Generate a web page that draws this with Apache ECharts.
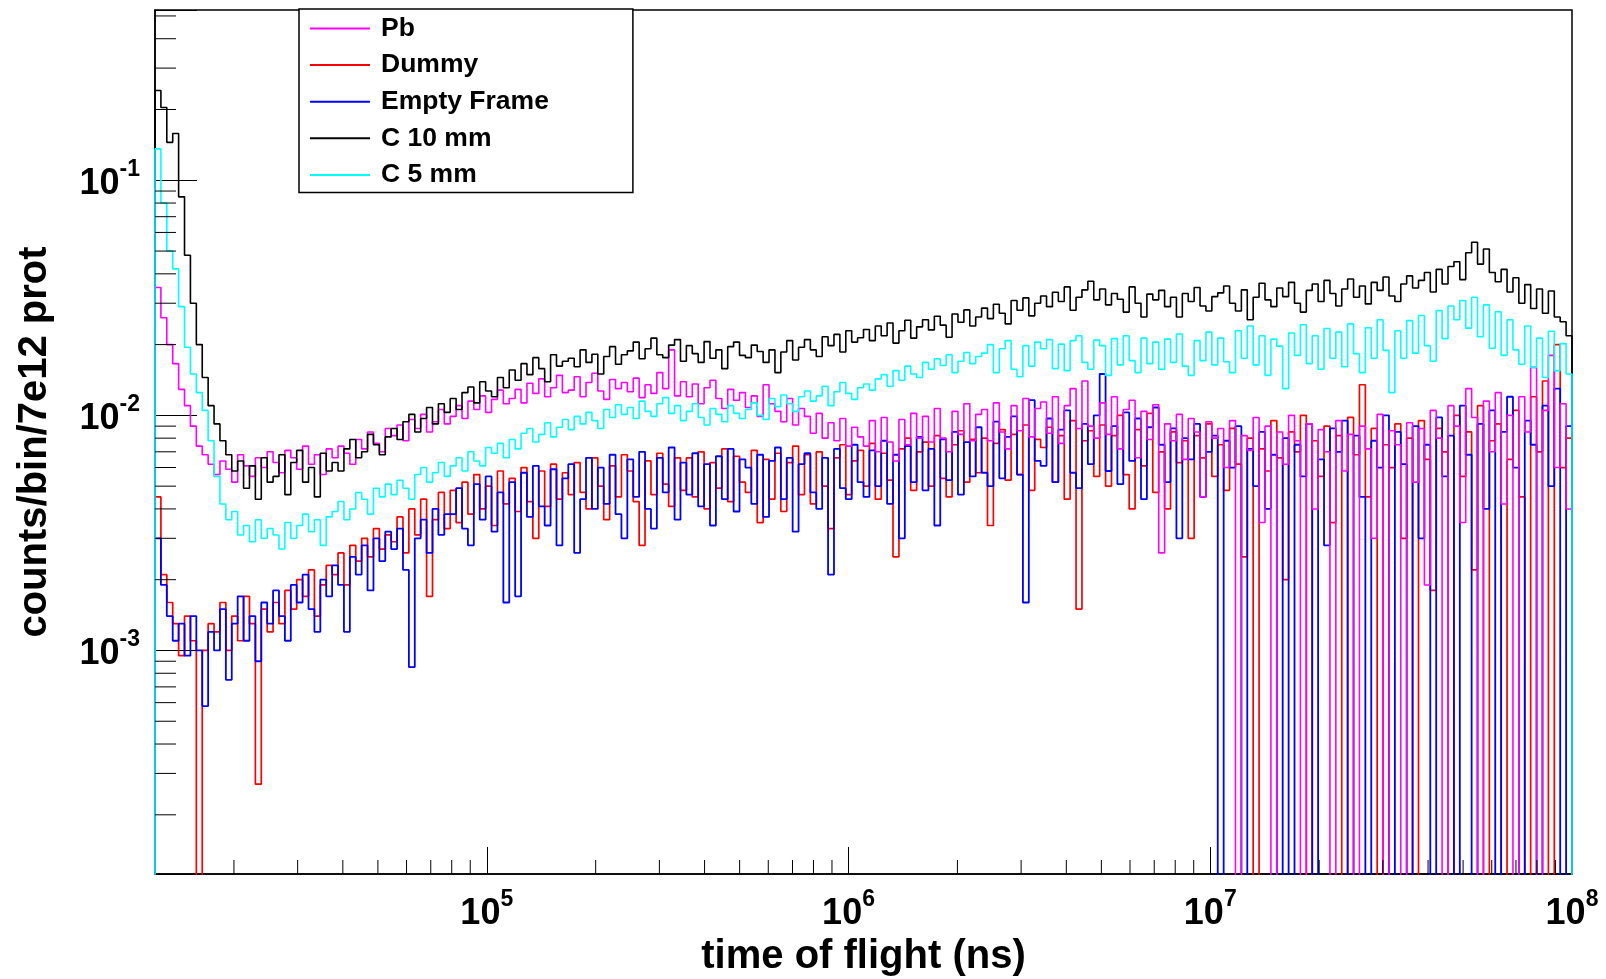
<!DOCTYPE html>
<html>
<head>
<meta charset="utf-8">
<script src="https://cdn.jsdelivr.net/npm/echarts@6/dist/echarts.min.js"></script>
<style>html,body{margin:0;padding:0;background:#fff}#c{width:1606px;height:979px}</style>
</head>
<body>
<div id="c"></div>
<script>
// ---- axis ranges and binning (log-spaced bins) ----
const X_MIN = 12100, X_MAX = 1e8;
const Y_MIN = 1.12e-4, Y_MAX = 0.53;
const NBINS = 240;
const FLOOR = 1e-7; // empty bins are drawn down to the frame bottom

const legendNames = ['Pb', 'Dummy', 'Empty Frame', 'C 10 mm', 'C 5 mm'];
const xMinorTicks = [2e4,3e4,4e4,5e4,6e4,7e4,8e4,9e4, 2e5,3e5,4e5,5e5,6e5,7e5,8e5,9e5,
  2e6,3e6,4e6,5e6,6e6,7e6,8e6,9e6, 2e7,3e7,4e7,5e7,6e7,7e7,8e7,9e7];
const yMinorTicks = [2e-4,3e-4,4e-4,5e-4,6e-4,7e-4,8e-4,9e-4, 2e-3,3e-3,4e-3,5e-3,6e-3,7e-3,8e-3,9e-3,
  2e-2,3e-2,4e-2,5e-2,6e-2,7e-2,8e-2,9e-2, 2e-1,3e-1,4e-1,5e-1];

// ---- series values (counts/bin/7e12 prot), one value per bin ----
const pb = [
0.035,0.026,0.020,0.0166,0.0129,0.0110,0.0090,0.0074,0.0068,0.0062,
0.0056,0.0064,0.0059,0.0052,0.0068,0.0061,0.0055,0.0066,0.0060,0.0070,
0.0063,0.0057,0.0071,0.0066,0.0059,0.0074,0.0062,0.0068,0.0056,0.0072,
0.0066,0.0074,0.0069,0.0062,0.0079,0.0072,0.0085,0.0076,0.0070,0.0088,
0.0082,0.0091,0.0078,0.0096,0.0088,0.0101,0.0085,0.0094,0.0106,0.0092,
0.0099,0.0110,0.0097,0.0115,0.0106,0.0121,0.0103,0.0117,0.0128,0.0112,
0.0118,0.0129,0.0113,0.0137,0.0124,0.0143,0.0120,0.0131,0.0148,0.0125,
0.0128,0.0146,0.0120,0.0138,0.0151,0.0127,0.0117,0.0142,0.0130,0.0138,
0.0126,0.0144,0.0119,0.0135,0.0124,0.0152,0.0130,0.0190,0.0121,0.0139,
0.0120,0.0136,0.0112,0.0131,0.0141,0.0118,0.0107,0.0129,0.0116,0.0125,
0.0108,0.0121,0.0099,0.0135,0.0112,0.0104,0.0094,0.0118,0.0091,0.0107,
0.0099,0.0084,0.0102,0.0080,0.0093,0.0078,0.0097,0.0074,0.0089,0.0081,
0.0074,0.0095,0.0070,0.0098,0.0077,0.0064,0.0096,0.0075,0.0102,0.0080,
0.0099,0.0077,0.0107,0.0080,0.0070,0.0104,0.0083,0.0112,0.0078,0.0101,
0.0106,0.0078,0.0113,0.0085,0.0072,0.0110,0.0086,0.0118,0.0081,0.0107,
0.0114,0.0084,0.0120,0.0076,0.0110,0.0130,0.0088,0.0140,0.0090,0.0080,
0.0113,0.0083,0.0120,0.0072,0.0106,0.0116,0.0066,0.0104,0.0079,0.0111,
0.0026,0.0092,0.0078,0.0101,0.0065,0.0097,0.0085,0.0045,0.0094,0.0080,
0.0088,0.0060,0.0095,0,0.0082,0.0071,0.0098,0.0035,0.0090,0,
0.0085,0.0062,0.0100,0.0078,0,0.0092,0.0040,0.0087,0.0070,0,
0.0095,0.0058,0.0083,0,0.0090,0.0072,0.0030,0.0101,0,0.0086,
0.0075,0,0.0093,0.0052,0.0088,0.0019,0.0105,0.0080,0,0.0110,
0.0090,0.0035,0.0130,0.0098,0,0.0115,0.0070,0.0125,0.0042,0.0100,
0,0.0120,0.0085,0.0160,0,0.0105,0.0180,0.0060,0.0112,0.0040
];
const dummy = [
0.0045,0.0021,0.0016,0.0013,0.00095,0.0014,0.0011,0,0.0010,0.0013,
0.0012,0.0016,0.0010,0.0014,0.0011,0.0017,0.0013,0.00027,0.0015,0.0012,
0.0016,0.0013,0.0018,0.0015,0.0020,0.0017,0.0022,0.0014,0.0019,0.0023,
0.0021,0.0026,0.0019,0.0028,0.0024,0.0030,0.0025,0.0033,0.0027,0.0031,
0.0029,0.0037,0.0026,0.0040,0.0031,0.0044,0.0017,0.0036,0.0047,0.0033,
0.0048,0.0035,0.0052,0.0038,0.0056,0.0040,0.0050,0.0034,0.0058,0.0042,
0.0054,0.0039,0.0060,0.0043,0.0030,0.0058,0.0041,0.0062,0.0044,0.0057,
0.0046,0.0063,0.0047,0.0040,0.0066,0.0050,0.0036,0.0061,0.0045,0.0068,
0.0058,0.0043,0.0028,0.0064,0.0046,0.0069,0.0051,0.0041,0.0066,0.0048,
0.0066,0.0045,0.0070,0.0040,0.0063,0.0049,0.0072,0.0043,0.0067,0.0052,
0.0047,0.0071,0.0035,0.0065,0.0044,0.0069,0.0039,0.0063,0.0074,0.0046,
0.0068,0.0042,0.0070,0.0050,0.0033,0.0066,0.0075,0.0046,0.0064,0.0071,
0.0050,0.0076,0.0044,0.0069,0.0053,0.0025,0.0072,0.0080,0.0048,0.0070,
0.0077,0.0050,0.0082,0.0054,0.0045,0.0075,0.0086,0.0052,0.0079,0.0057,
0.0080,0.0034,0.0076,0.0087,0.0053,0.0083,0.0056,0.0091,0.0048,0.0079,
0.0073,0.0089,0.0052,0.0082,0.0044,0.0095,0.0015,0.0078,0.0086,0.0055,
0.0091,0.0050,0.0082,0.0100,0.0056,0.0040,0.0087,0.0061,0.0102,0.0047,
0.0070,0.0040,0.0085,0.0063,0.0078,0.0030,0.0082,0.0066,0.0092,0.0055,
0.0075,0.0048,0.0088,0.0062,0.0025,0.0080,0,0.0072,0.0058,0.0095,
0.0066,0.0020,0.0085,0.0070,0.0100,0,0.0078,0.0055,0.0090,0.0035,
0.0082,0,0.0098,0.0068,0.0135,0.0045,0.0088,0,0.0075,0.0060,
0.0092,0.0030,0.0080,0,0.0095,0.0065,0.0018,0.0088,0.0070,0,
0.0100,0.0055,0.0085,0.0022,0.0110,0,0.0078,0.0092,0,0.0065,
0.0105,0.0045,0,0.0120,0.0070,0.0140,0,0.0200,0.0060,0.0080
];
const emptyFrame = [
0.0030,0.0019,0.0014,0.0011,0.0013,0.00095,0.0014,0.0010,0.00058,0.0012,
0.0010,0.0015,0.00075,0.0013,0.0017,0.0011,0.0014,0.0009,0.0016,0.0013,
0.0018,0.0014,0.0011,0.0019,0.0016,0.0021,0.0015,0.0012,0.0020,0.0017,
0.0023,0.0019,0.0012,0.0025,0.0021,0.0028,0.0018,0.0030,0.0024,0.0032,
0.0027,0.0033,0.0022,0.00085,0.0030,0.0036,0.0026,0.0040,0.0031,0.0038,
0.0038,0.0049,0.0033,0.0028,0.0051,0.0036,0.0055,0.0032,0.0047,0.0016,
0.0052,0.0017,0.0057,0.0037,0.0061,0.0041,0.0034,0.0059,0.0028,0.0054,
0.0062,0.0026,0.0044,0.0066,0.0040,0.0060,0.0042,0.0068,0.0038,0.0030,
0.0065,0.0045,0.0070,0.0040,0.0033,0.0066,0.0047,0.0073,0.0036,0.0063,
0.0046,0.0069,0.0041,0.0062,0.0034,0.0067,0.0044,0.0072,0.0039,0.0065,
0.0060,0.0042,0.0068,0.0037,0.0064,0.0073,0.0044,0.0066,0.0032,0.0062,
0.0069,0.0047,0.0040,0.0066,0.0021,0.0072,0.0049,0.0044,0.0075,0.0052,
0.0045,0.0071,0.0050,0.0078,0.0042,0.0068,0.0030,0.0074,0.0052,0.0081,
0.0048,0.0072,0.0034,0.0079,0.0053,0.0085,0.0046,0.0077,0.0055,0.0089,
0.0057,0.0050,0.0094,0.0054,0.0081,0.0099,0.0056,0.0016,0.0116,0.0064,
0.0061,0.0097,0.0052,0.0087,0.0105,0.0057,0.0049,0.0092,0.0062,0.0100,
0.0150,0.0058,0.0090,0.0051,0.0103,0.0064,0.0097,0.0044,0.0089,0.0108,
0.0075,0.0052,0.0088,0.0030,0.0080,0.0065,0.0092,0.0045,0.0070,0.0082,
0,0.0078,0.0060,0.0090,0,0.0072,0.0050,0.0085,0.0040,0.0068,
0,0.0080,0,0.0075,0.0055,0.0092,0,0.0065,0.0028,0.0088,
0.0070,0.0095,0,0.0082,0.0045,0,0.0078,0.0060,0.0100,0,
0.0085,0.0062,0,0.0090,0.0030,0.0075,0,0.0098,0.0055,0.0082,
0,0.0110,0.0068,0,0.0092,0.0040,0.0105,0,0.0085,0.0120,
0.0060,0,0.0095,0.0075,0,0.0110,0.0050,0.0130,0,0.0090
];
const c10mm = [
0.241,0.204,0.145,0.158,0.085,0.048,0.030,0.020,0.0145,0.0110,
0.0092,0.0078,0.0068,0.0058,0.0064,0.0049,0.0061,0.0044,0.0066,0.0052,
0.0055,0.0068,0.0046,0.0063,0.0071,0.0052,0.0060,0.0045,0.0069,0.0058,
0.0063,0.0058,0.0072,0.0079,0.0066,0.0070,0.0083,0.0075,0.0068,0.0081,
0.0088,0.0079,0.0094,0.0101,0.0085,0.0097,0.0108,0.0092,0.0112,0.0103,
0.0118,0.0106,0.0125,0.0132,0.0113,0.0139,0.0127,0.0120,0.0145,0.0131,
0.0156,0.0141,0.0166,0.0149,0.0176,0.0158,0.0139,0.0181,0.0162,0.0170,
0.0175,0.0161,0.0190,0.0168,0.0182,0.0150,0.0178,0.0196,0.0165,0.0181,
0.0188,0.0205,0.0174,0.0192,0.0213,0.0181,0.0176,0.0199,0.0210,0.0170,
0.0198,0.0183,0.0168,0.0206,0.0175,0.0190,0.0158,0.0196,0.0205,0.0180,
0.0176,0.0199,0.0187,0.0168,0.0190,0.0152,0.0186,0.0208,0.0172,0.0195,
0.0210,0.0190,0.0178,0.0216,0.0198,0.0221,0.0186,0.0229,0.0205,0.0214,
0.0232,0.0208,0.0240,0.0218,0.0247,0.0203,0.0229,0.0254,0.0213,0.0238,
0.0255,0.0231,0.0264,0.0242,0.0215,0.0270,0.0249,0.0281,0.0240,0.0262,
0.0286,0.0258,0.0297,0.0272,0.0245,0.0308,0.0280,0.0316,0.0265,0.0300,
0.0322,0.0290,0.0334,0.0305,0.0352,0.0280,0.0318,0.0342,0.0372,0.0310,
0.0345,0.0295,0.0330,0.0312,0.0275,0.0352,0.0300,0.0262,0.0328,0.0310,
0.0340,0.0290,0.0318,0.0262,0.0330,0.0305,0.0350,0.0292,0.0278,0.0320,
0.0332,0.0355,0.0300,0.0278,0.0342,0.0255,0.0318,0.0365,0.0310,0.0290,
0.0348,0.0320,0.0368,0.0300,0.0275,0.0340,0.0362,0.0305,0.0375,0.0330,
0.0292,0.0345,0.0380,0.0318,0.0355,0.0298,0.0368,0.0340,0.0388,0.0322,
0.0305,0.0362,0.0392,0.0348,0.0375,0.0405,0.0335,0.0418,0.0362,0.0430,
0.0450,0.0378,0.0492,0.0545,0.0440,0.0510,0.0405,0.0370,0.0418,0.0335,
0.0385,0.0300,0.0360,0.0285,0.0345,0.0272,0.0338,0.0262,0.0250,0.0218
];
const c5mm = [
0.136,0.080,0.050,0.042,0.029,0.0195,0.0150,0.0125,0.0105,0.0078,
0.0055,0.0042,0.0036,0.0039,0.0031,0.0034,0.0029,0.0036,0.0030,0.0033,
0.0031,0.0027,0.0035,0.0030,0.0034,0.0038,0.0032,0.0036,0.0028,0.0037,
0.0039,0.0043,0.0036,0.0040,0.0047,0.0044,0.0038,0.0049,0.0045,0.0051,
0.0046,0.0053,0.0049,0.0044,0.0056,0.0060,0.0052,0.0057,0.0063,0.0055,
0.0061,0.0066,0.0058,0.0070,0.0064,0.0061,0.0073,0.0069,0.0076,0.0066,
0.0079,0.0072,0.0084,0.0088,0.0077,0.0083,0.0093,0.0081,0.0089,0.0096,
0.0087,0.0099,0.0092,0.0103,0.0095,0.0088,0.0106,0.0098,0.0111,0.0101,
0.0108,0.0097,0.0115,0.0104,0.0099,0.0112,0.0119,0.0102,0.0110,0.0095,
0.0104,0.0112,0.0098,0.0091,0.0107,0.0101,0.0094,0.0110,0.0102,0.0097,
0.0106,0.0113,0.0100,0.0096,0.0118,0.0109,0.0122,0.0112,0.0104,0.0120,
0.0127,0.0115,0.0121,0.0133,0.0110,0.0126,0.0138,0.0124,0.0117,0.0131,
0.0136,0.0128,0.0143,0.0149,0.0133,0.0155,0.0141,0.0162,0.0150,0.0145,
0.0168,0.0157,0.0174,0.0163,0.0181,0.0152,0.0170,0.0185,0.0166,0.0178,
0.0184,0.0200,0.0152,0.0192,0.0208,0.0157,0.0146,0.0198,0.0162,0.0205,
0.0192,0.0210,0.0158,0.0201,0.0155,0.0208,0.0218,0.0168,0.0157,0.0209,
0.0198,0.0148,0.0212,0.0164,0.0218,0.0171,0.0152,0.0213,0.0166,0.0205,
0.0157,0.0211,0.0168,0.0222,0.0162,0.0148,0.0208,0.0171,0.0226,0.0164,
0.0213,0.0169,0.0152,0.0229,0.0175,0.0240,0.0164,0.0218,0.0148,0.0211,
0.0197,0.0130,0.0224,0.0180,0.0243,0.0166,0.0218,0.0157,0.0234,0.0175,
0.0226,0.0161,0.0245,0.0183,0.0152,0.0236,0.0175,0.0255,0.0189,0.0125,
0.0229,0.0175,0.0253,0.0184,0.0266,0.0198,0.0170,0.0279,0.0212,0.0292,
0.0255,0.0308,0.0235,0.0318,0.0216,0.0295,0.0193,0.0276,0.0180,0.0255,
0.0190,0.0165,0.0240,0.0160,0.0213,0.0145,0.0228,0.0155,0.0202,0.0150
];

// ---- build ----
const FONT = 'Liberation Sans, Arial, Helvetica, sans-serif';
const LMIN = Math.log10(X_MIN);
const DW = (Math.log10(X_MAX) - LMIN) / NBINS;
const edges = [];
for (let i = 0; i <= NBINS; i++) edges.push(Math.pow(10, LMIN + i * DW));

function histPoints(vals) {
  const f = v => (v > 0 ? v : FLOOR);
  const pts = [[edges[0], FLOOR]];
  vals.forEach((v, i) => pts.push([edges[i], f(v)]));
  pts.push([edges[vals.length], f(vals[vals.length - 1])]);
  pts.push([edges[vals.length], FLOOR]);
  return pts;
}
function hist(name, vals, color, width) {
  return {
    name, type: 'line', step: 'end', data: histPoints(vals), color,
    symbol: 'none', showSymbol: false, clip: true, animation: false,
    lineStyle: { color, width }, emphasis: { disabled: true }
  };
}
function tickSeries(data, dir, len) {
  return {
    type: 'custom', coordinateSystem: 'cartesian2d', silent: true, z: 6, clip: false,
    animation: false, data,
    renderItem(params, api) {
      const p = api.coord([api.value(0), api.value(1)]);
      const shape = dir === 'x'
        ? { x1: p[0], y1: p[1], x2: p[0], y2: p[1] - len }
        : { x1: p[0], y1: p[1], x2: p[0] + len, y2: p[1] };
      return { type: 'line', shape, style: { stroke: '#000', lineWidth: 1 } };
    }
  };
}
function powLabel(v) {
  const e = Math.log10(v), r = Math.round(e);
  if (Math.abs(e - r) > 1e-6) return '';
  return '{b|10}{s|' + r + '}';
}
const rich = {
  b: { fontFamily: FONT, fontWeight: 'bold', fontSize: 36, lineHeight: 44, color: '#000', verticalAlign: 'bottom' },
  s: { fontFamily: FONT, fontWeight: 'bold', fontSize: 23, lineHeight: 24, color: '#000', verticalAlign: 'top' }
};

const chart = echarts.init(document.getElementById('c'), null, { renderer: 'canvas' });
chart.setOption({
  animation: false,
  backgroundColor: '#fff',
  grid: { left: 155, right: 34, top: 10, bottom: 105, show: true, borderColor: '#000', borderWidth: 1.5,
          backgroundColor: 'transparent', containLabel: false, outerBoundsMode: 'none' },
  legend: {
    data: legendNames, orient: 'vertical', left: 299, top: 9,
    padding: [6, 84, 4, 11], itemGap: 9.6, itemWidth: 60, itemHeight: 2, icon: 'rect',
    borderColor: '#000', borderWidth: 1.5, backgroundColor: '#fff', selectedMode: false, z: 20,
    textStyle: { fontFamily: FONT, fontWeight: 'bold', fontSize: 26.5, lineHeight: 26, color: '#000', padding: [0, 0, 0, 6] }
  },
  xAxis: {
    type: 'log', logBase: 10, min: X_MIN, max: X_MAX,
    name: 'time of flight (ns)', nameLocation: 'middle', nameGap: 62,
    nameTextStyle: { fontFamily: FONT, fontWeight: 'bold', fontSize: 40, color: '#000' },
    axisLine: { show: true, lineStyle: { color: '#000', width: 1.5 } },
    axisTick: { show: true, inside: true, length: 27, lineStyle: { color: '#000', width: 1 } },
    axisLabel: { formatter: powLabel, rich, margin: 14, showMinLabel: true, showMaxLabel: true },
    splitLine: { show: false }, minorTick: { show: false }
  },
  yAxis: {
    type: 'log', logBase: 10, min: Y_MIN, max: Y_MAX,
    name: 'counts/bin/7e12 prot', nameLocation: 'middle', nameGap: 100, nameRotate: 90,
    nameTextStyle: { fontFamily: FONT, fontWeight: 'bold', fontSize: 40, color: '#000' },
    axisLine: { show: true, lineStyle: { color: '#000', width: 1.5 } },
    axisTick: { show: true, inside: true, length: 42, lineStyle: { color: '#000', width: 1 } },
    axisLabel: { formatter: powLabel, rich, margin: 15 },
    splitLine: { show: false }, minorTick: { show: false }
  },
  series: [
    hist('Dummy', dummy, '#ff0000', 1.7),
    hist('Empty Frame', emptyFrame, '#0000ff', 1.8),
    hist('Pb', pb, '#ff00ff', 1.6),
    hist('C 10 mm', c10mm, '#000000', 1.6),
    hist('C 5 mm', c5mm, '#00ffff', 1.6),
    tickSeries(xMinorTicks.map(v => [v, Y_MIN]), 'x', 14),
    tickSeries(yMinorTicks.map(v => [X_MIN, v]), 'y', 21)
  ]
});
</script>
</body>
</html>
